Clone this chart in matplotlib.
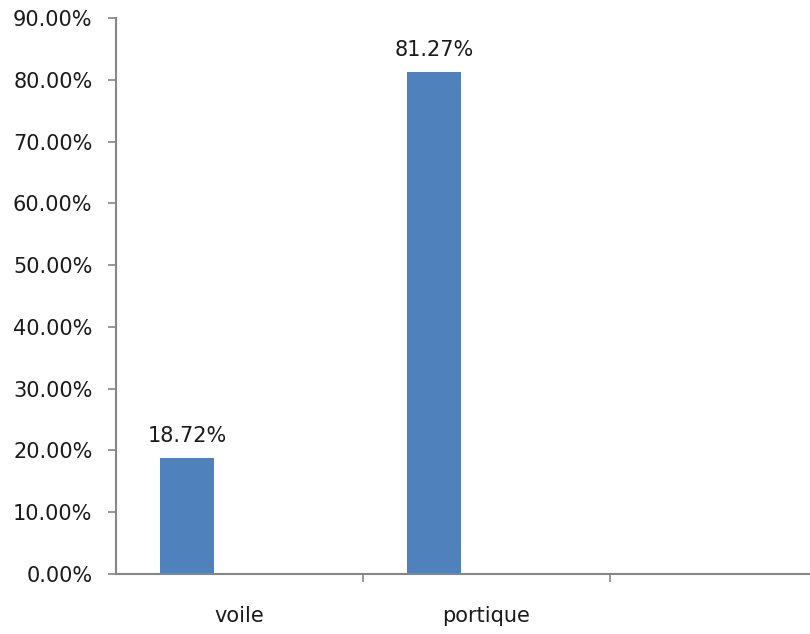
import matplotlib
matplotlib.use("Agg")
import matplotlib.pyplot as plt
from matplotlib.ticker import FixedLocator, FuncFormatter

categories = ["voile", "portique", ""]
values = [18.72, 81.27]
value_labels = ["18.72%", "81.27%"]
yticks = [0, 10, 20, 30, 40, 50, 60, 70, 80, 90]

fig = plt.figure(figsize=(8.10, 6.34), dpi=100)
W, H = 810, 634
ax = fig.add_axes([116 / W, 1 - 574 / H, (810 - 116) / W, (574 - 18) / H])

bar_color = "#4F81BD"
axis_color = "#868686"
text_color = "#1a1a1a"
fs = 15
offset = -0.213
width = 0.218
xs = [i + offset for i in range(len(values))]
bars = ax.bar(xs, values, width=width, color=bar_color, zorder=2)
for b, lab in zip(bars, value_labels):
    ax.text(b.get_x() + b.get_width() / 2, b.get_height() + 2.0, lab,
            ha="center", va="bottom", fontsize=fs, color=text_color)

ax.yaxis.set_major_locator(FixedLocator(yticks))
ax.yaxis.set_major_formatter(FuncFormatter(lambda v, p: f"{v:.2f}%"))

ax.set_xticks(range(len(categories)))
ax.set_xticklabels(categories)
ax.set_xticks([0.5, 1.5], minor=True)
ax.set_xlim(-0.5, -0.5 + (810 - 116) / 247)
ax.set_ylim(0, 90)
ax.tick_params(axis="x", which="major", length=0, pad=23, labelsize=fs, labelcolor=text_color)
ax.tick_params(axis="x", which="minor", length=6, width=1.2, color=axis_color, direction="out")
ax.tick_params(axis="y", length=6, width=1.2, color=axis_color, direction="out", pad=11,
               labelsize=fs, labelcolor=text_color)

for s in ["top", "right"]:
    ax.spines[s].set_visible(False)
for s in ["left", "bottom"]:
    ax.spines[s].set_color(axis_color)
    ax.spines[s].set_linewidth(1.5)

fig.savefig("out.png", dpi=100, facecolor="white")
